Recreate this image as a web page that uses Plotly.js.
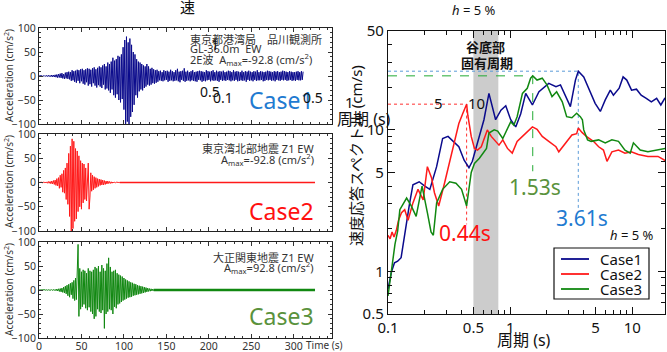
<!DOCTYPE html>
<html><head><meta charset="utf-8">
<script src="https://cdn.plot.ly/plotly-3.0.1.min.js"></script>
<style>html,body{margin:0;padding:0;background:#fff}#c{width:667px;height:352px}</style>
</head><body><div id="c"></div>
<script>
// ---- time histories (cm/s^2), 1 s sampling starting at t = 0 ----
const acc1 = [0,0.5,-0.5,0.8,-0.6,0.7,-0.8,1,-1,1.2,-1,1.5,-1.2,1.3,-1.5,2,-1.8,2,-2,2.5,
-2.5,3,-3.5,4,-3,5,-4,6,-5,4,-6,7,-5,8,-6,9,-7,8,-10,12,
-9,10,-12,11,-14,13,-10,12,-15,14,-11,15,-16,12,-18,14,-13,16,-20,15,
-17,13,-22,16,-15,18,-20,14,-24,17,-19,20,-22,18,-25,22,-18,25,-28,20,
-26,28,-30,25,-35,30,-28,38,-40,32,-45,35,-38,42,-50,40,-55,45,-48,60,
-70,75,-100,82,-95,70,-100,78,-85,65,-75,50,-60,45,-40,35,-45,30,-32,28,
-28,25,-30,22,-25,20,-22,25,-18,20,-20,15,-18,17,-15,14,-16,12,-14,13,
-12,10,-9,11,-10,8,-11,12,-9,10,-8,11,-12,9,-10,13,-9,10,-11,8,
-10,12,-9,15,-11,9,-13,10,-8,11,-10,16,-12,9,-10,11,-9,8,-11,10,
-9,12,-10,8,-11,9,-12,10,-8,11,-9,10,-12,9,-10,8,-11,12,-9,10,
-8,9,-11,10,-9,12,-10,8,-9,11,-10,9,-12,10,-8,9,-10,11,-9,8,
-10,9,-8,11,-9,10,-11,8,-9,12,-10,9,-8,10,-11,9,-10,8,-9,11,
-10,8,-9,10,-12,9,-8,11,-10,9,-9,8,-11,10,-8,9,-10,12,-9,8,
-9,10,-8,9,-11,8,-10,9,-8,11,-9,10,-8,9,-10,8,-9,10,-11,9,
-8,10,-9,8,-10,9,-8,11,-9,10,-8,9,-10,8,-9,10,-8,9,-10,8,
-9,8,-10,9,-8,10,-9,8,-9,10,-8,9];
const acc2 = [0,0.3,-0.3,0.5,-0.5,0.8,-0.6,1,-1,1.2,-1.5,2,-1.5,2,-2.5,3,-3,4,-4,5,
-6,8,-7,10,-12,15,-10,18,-20,25,-22,30,-35,40,-45,60,-70,75,-100,90,
-95,85,-80,70,-75,65,-60,55,-50,45,-55,40,-42,38,-35,30,-38,25,40,-55,
-30,20,-18,15,-15,12,-12,10,-10,8,-8,7,-6,6,-5,5,-5,4,-4,3,
-3,3,-2,2,-2,1.5,-1.5,1,-1,0.8,-0.5,0.5,-0.3,0.3,0,0];
const acc3 = [0,0.2,-0.2,0.3,-0.3,0.3,-0.3,0.5,-0.5,0.5,-0.5,0.6,-0.6,0.8,-0.8,1,-1,1,-1,1.2,
-1.5,2,-2,2.5,-3,3,-4,4,-5,6,-6,8,-8,10,-12,12,-15,14,-10,16,
-18,20,-22,25,-20,40,95,-55,45,-40,38,-35,42,-30,40,-38,35,-42,45,-36,
40,-45,38,-50,42,-60,48,-55,45,-40,50,-45,38,-48,52,-42,45,-80,40,-50,
55,-45,67,-40,48,-42,38,-50,40,-35,42,-38,35,-30,32,-28,30,-25,28,-22,
25,-20,22,-18,20,-16,18,-15,16,-14,15,-12,13,-11,12,-10,10,-9,9,-8,
8,-7,7,-6,6,-5,5,-4,4,-3,3,-2.5,2.5,-2,2,-1.5];
const tailT2 = [95, 325], tailA2 = [0, 0];
const tailT3 = [135, 325], tailA3 = [0, 0];

// ---- velocity response spectra h = 5 % ----
const T1 = [0.1,0.107,0.113,0.12,0.128,0.135,0.142,0.15,0.16,0.18,0.2,0.22,0.25,0.28,0.31,0.34,0.38,0.42,0.46,0.49,0.54,0.61,0.67,0.72,0.76,0.84,0.92,1.01,1.11,1.22,1.34,1.52,1.72,2.07,2.37,2.58,2.84,3.11,3.42,3.61,4.0,4.38,4.96,5.47,6.0,6.6,7.0,7.8,8.4,9.0,9.85,10.8,11.8,13.0,14.3,15.8,17.1,18.4,20];
const V1 = [0.75,1.0,1.15,1.18,1.25,1.7,2.3,3.0,4.1,4.3,4.0,3.8,5.5,8.7,9.0,8.3,7.6,6.1,5.4,6.0,8.1,11.8,18.1,14,11.8,13.8,14.8,11.8,10.5,13.0,18.1,15.0,18.6,21.3,20.2,20.8,17.2,14.6,22.5,26.0,23.7,19.7,15.4,13.5,16.3,19.1,17.6,19.7,23.7,22.5,19.1,19.4,17.6,16.7,15.8,16.7,15.0,16.7,17];
const T2 = [0.1,0.104,0.108,0.112,0.117,0.122,0.129,0.137,0.146,0.16,0.176,0.194,0.21,0.227,0.24,0.26,0.29,0.32,0.35,0.38,0.41,0.44,0.45,0.48,0.51,0.54,0.58,0.61,0.65,0.7,0.76,0.81,0.87,0.95,1.04,1.14,1.26,1.38,1.52,1.66,1.83,2.07,2.37,2.5,2.84,3.2,3.5,3.61,3.87,4.2,4.8,5.3,5.8,6.2,6.8,7.7,8.7,9.8,11.2,13.4,16.2,18.4,20];
const V2 = [1.8,1.7,1.9,1.75,1.95,2.3,2.6,2.73,2.3,3.05,3.8,3.2,5.5,4.6,3.6,2.9,4.2,6.1,8.5,11.1,13.1,15.2,12.7,9.0,7.4,7.2,7.6,8.5,10,9.0,8.3,7.8,8.5,7.4,6.85,8.3,9.0,9.7,10.5,10.1,9.0,8.3,7.6,7.0,8.1,9.2,9.4,10.3,9.6,9.0,8.3,7.6,7.2,6.0,7.0,7.2,6.85,7.0,6.7,6.5,6.5,6.1,6.0];
const T3 = [0.1,0.105,0.114,0.12,0.125,0.142,0.155,0.17,0.19,0.21,0.225,0.235,0.25,0.28,0.32,0.36,0.4,0.44,0.45,0.48,0.51,0.56,0.64,0.67,0.74,0.79,0.87,0.95,1.01,1.07,1.14,1.26,1.38,1.47,1.53,1.66,1.83,2.0,2.2,2.4,2.67,2.9,3.2,3.5,3.75,3.9,4.0,4.3,4.6,5.3,6.0,6.8,7.7,8.7,9.6,10.2,11.6,13.4,16.2,18.4,20];
const V3 = [0.67,0.9,1.55,1.93,2.73,3.3,2.9,2.45,4.0,2.6,1.9,1.8,3.05,3.8,4.3,4.2,3.8,2.9,3.4,5.0,5.8,6.3,7.4,9.5,10,9.8,8.7,10.3,11.4,10.8,12.4,18.1,19.7,23.2,24.1,22.5,23.2,20.8,17.2,18.6,15.8,12.4,12.2,13.1,12.4,11.8,10,8.5,8.3,8.5,8.1,8.5,8.3,7.2,6.85,8.1,7.2,7.0,7.2,7.4,7.5];

const peakT = [0.44, 1.53, 3.61];
const peakV = [15.2, 24.1, 26.0];
const peakLow = [2.15, 5.1, 2.75];
const peakLabels = ['0.44s', '1.53s', '3.61s'];
const band = [0.5, 0.8];
const caseNames = ['Case1', 'Case2', 'Case3'];

const lineCol = ['#0a0a8c', '#ff1a1a', '#118811'];
const tagCol = ['#1f7bd1', '#ff1010', '#5a923c'];
const dashCol = ['#ff3030', '#22aa33', '#5b9bd8'];

const W = 667, H = 352;
const px = x => x / W, py = y => 1 - y / H;
const FONT = 'Noto Sans, Noto Sans CJK JP, sans-serif';

const traces = [];
traces.push({y: acc1, x0: 0, dx: 1, type: 'scatter', mode: 'lines', name: caseNames[0], xaxis: 'x', yaxis: 'y', line: {color: lineCol[0], width: 1}, showlegend: false});
traces.push({y: acc2, x0: 0, dx: 1, type: 'scatter', mode: 'lines', name: caseNames[1], xaxis: 'x2', yaxis: 'y2', line: {color: lineCol[1], width: 1}, showlegend: false});
traces.push({x: tailT2, y: tailA2, type: 'scatter', mode: 'lines', xaxis: 'x2', yaxis: 'y2', line: {color: lineCol[1], width: 1.5}, showlegend: false});
traces.push({y: acc3, x0: 0, dx: 1, type: 'scatter', mode: 'lines', name: caseNames[2], xaxis: 'x3', yaxis: 'y3', line: {color: lineCol[2], width: 1}, showlegend: false});
traces.push({x: tailT3, y: tailA3, type: 'scatter', mode: 'lines', xaxis: 'x3', yaxis: 'y3', line: {color: lineCol[2], width: 2.5}, showlegend: false});

const dashStyles = ['dot', 'dash', 'dot'];
for (let i = 0; i < 3; i++) {
  traces.push({x: [0.1, peakT[i], peakT[i]], y: [peakV[i], peakV[i], peakLow[i]], type: 'scatter', mode: 'lines',
    xaxis: 'x4', yaxis: 'y4', line: {color: dashCol[i], width: 1, dash: dashStyles[i]}, showlegend: false, hoverinfo: 'skip'});
}
const TT = [T1, T2, T3], VV = [V1, V2, V3];
for (let i = 0; i < 3; i++) {
  traces.push({x: TT[i], y: VV[i], type: 'scatter', mode: 'lines', name: caseNames[i], xaxis: 'x4', yaxis: 'y4',
    line: {color: lineCol[i], width: 1.5}, showlegend: false});
}

const xDom = [px(39), px(332)];
const tFont = {family: FONT, size: 10.5, color: '#333'};
function timeX(anchor, labels) {
  return {domain: xDom, anchor: anchor, range: [0, 345], tickvals: [0, 50, 100, 150, 200, 250, 300],
    showticklabels: labels, ticks: 'inside', ticklen: 4, tickcolor: '#333', showline: true, linecolor: '#222', linewidth: 1,
    mirror: 'allticks', showgrid: false, zeroline: false, tickfont: tFont, ticklabelstandoff: -2,
    minor: {dtick: 10, ticks: 'inside', ticklen: 2, tickcolor: '#333'}};
}
function timeY(anchor, dom) {
  return {domain: dom, anchor: anchor, range: [-100, 100], tickvals: [-100, -50, 0, 50, 100],
    ticks: 'inside', ticklen: 4, tickcolor: '#333', showline: true, linecolor: '#222', linewidth: 1,
    mirror: 'allticks', showgrid: false, zeroline: false, tickfont: tFont,
    minor: {dtick: 10, ticks: 'inside', ticklen: 2, tickcolor: '#333'}};
}

const sFont = {family: FONT, size: 15, color: '#111'};
const layout = {
  width: W, height: H, margin: {l: 0, r: 0, t: 0, b: 0}, paper_bgcolor: '#fff', plot_bgcolor: 'rgba(0,0,0,0)',
  font: {family: FONT, color: '#111'}, showlegend: false,
  xaxis: timeX('y', false), xaxis2: timeX('y2', false), xaxis3: timeX('y3', true),
  yaxis: timeY('x', [py(124), py(28)]), yaxis2: timeY('x2', [py(231), py(134)]), yaxis3: timeY('x3', [py(338), py(242)]),
  xaxis4: {domain: [px(388), px(665)], anchor: 'y4', type: 'log', range: [-1, Math.log10(18.5)],
    tickvals: [0.1, 0.5, 1, 5, 10], ticktext: ['0.1', '0.5', '1', '5', '10'], ticks: 'inside', ticklen: 7, tickcolor: '#111',
    showline: true, linecolor: '#111', linewidth: 1.2, mirror: 'allticks', showgrid: false, zeroline: false, tickfont: sFont,
    minor: {tickvals: [0.2, 0.3, 0.4, 0.6, 0.7, 0.8, 0.9, 2, 3, 4, 6, 7, 8, 9, 20], ticks: 'inside', ticklen: 4, tickcolor: '#111'}},
  yaxis4: {domain: [py(314), py(31)], anchor: 'x4', type: 'log', range: [Math.log10(0.5), Math.log10(50)],
    tickvals: [0.5, 1, 5, 10, 50], ticktext: ['0.5', '1', '5', '10', '50'], ticks: 'inside', ticklen: 7, tickcolor: '#111',
    showline: true, linecolor: '#111', linewidth: 1.2, mirror: 'allticks', showgrid: false, zeroline: false, tickfont: sFont,
    minor: {tickvals: [0.6, 0.7, 0.8, 0.9, 2, 3, 4, 6, 7, 8, 9, 20, 30, 40], ticks: 'inside', ticklen: 4, tickcolor: '#111'}},
  shapes: [
    {type: 'rect', xref: 'x4', yref: 'y4 domain', x0: band[0], x1: band[1], y0: 0, y1: 1, fillcolor: '#cccccc', line: {width: 0}, layer: 'below'}
  ],
  annotations: []
};

function ann(text, x, y, size, opts) {
  layout.annotations.push(Object.assign({text: text, xref: 'paper', yref: 'paper', x: px(x), y: py(y), showarrow: false,
    xanchor: 'center', yanchor: 'middle', font: {family: FONT, size: size, color: '#111'}}, opts || {}));
}
const gf = s => ({family: FONT, size: s, color: '#333'});

// legend (box, line samples, names)
layout.shapes.push({type: 'rect', xref: 'paper', yref: 'paper', x0: px(554), x1: px(649), y0: py(299), y1: py(248),
  fillcolor: '#fff', line: {color: '#111', width: 1.2}, layer: 'above'});
for (let i = 0; i < 3; i++) {
  const yy = 259 + 15 * i;
  layout.shapes.push({type: 'line', xref: 'paper', yref: 'paper', x0: px(561), x1: px(589), y0: py(yy), y1: py(yy),
    line: {color: lineCol[i], width: 1.8}, layer: 'above'});
  ann(caseNames[i], 598, yy, 15, {xanchor: 'left'});
}

ann('Acceleration (cm/s<sup>2</sup>)', 9, 76, 10, {textangle: -90, font: gf(10)});
ann('Acceleration (cm/s<sup>2</sup>)', 9, 182, 10, {textangle: -90, font: gf(10)});
ann('Acceleration (cm/s<sup>2</sup>)', 9, 290, 10, {textangle: -90, font: gf(10)});
ann('東京都港湾局　品川観測所', 188, 39, 11, {xanchor: 'left', font: gf(11)});
ann('GL-36.0m  EW', 188, 49, 11, {xanchor: 'left', font: gf(11)});
ann('2E波  A<sub>max</sub>=-92.8 (cm/s<sup>2</sup>)', 188, 60, 11, {xanchor: 'left', font: gf(11)});
ann('東京湾北部地震 Z1 EW', 316, 148, 11, {xanchor: 'right', font: gf(11)});
ann('A<sub>max</sub>=-92.8 (cm/s<sup>2</sup>)', 316, 159, 11, {xanchor: 'right', font: gf(11)});
ann('大正関東地震 Z1 EW', 316, 257, 11, {xanchor: 'right', font: gf(11)});
ann('A<sub>max</sub>=92.8 (cm/s<sup>2</sup>)', 316, 267, 11, {xanchor: 'right', font: gf(11)});
ann(caseNames[0], 281, 100, 23, {font: {family: FONT, size: 23, color: tagCol[0]}});
ann(caseNames[1], 281, 211, 23, {font: {family: FONT, size: 23, color: tagCol[1]}});
ann(caseNames[2], 281, 316, 23, {font: {family: FONT, size: 23, color: tagCol[2]}});
ann('Time (s)', 324, 345, 10, {font: gf(10)});
// stray labels present in the reference
ann('速', 187, 7, 15);
ann('1', 215, 44, 14);
ann('0.5', 210, 91, 14);
ann('0.1', 223, 98, 14);
ann('0.5', 313, 98, 14);
ann('1', 349, 102, 15);
ann('周期 (s)', 364, 119, 16);
ann('5', 438, 103, 15);
ann('10', 476, 103, 15);
// right panel texts
ann('<i>h</i> = 5 %', 474, 10, 13);
ann('<i>h</i> = 5 %', 632, 235, 13);
ann('<b>谷底部</b>', 486, 47, 13);
ann('<b>固有周期</b>', 487, 63, 13);
ann('速度応答スペクトル (cm/s)', 356, 156, 15, {textangle: -90});
ann('周期 (s)', 524, 340, 16);
ann(peakLabels[0], 465, 233, 21, {font: {family: FONT, size: 21, color: tagCol[1]}});
ann(peakLabels[1], 535, 187, 21, {font: {family: FONT, size: 21, color: tagCol[2]}});
ann(peakLabels[2], 582, 218, 21, {font: {family: FONT, size: 21, color: tagCol[0]}});

Plotly.newPlot('c', traces, layout, {staticPlot: true, displayModeBar: false});
</script></body></html>
